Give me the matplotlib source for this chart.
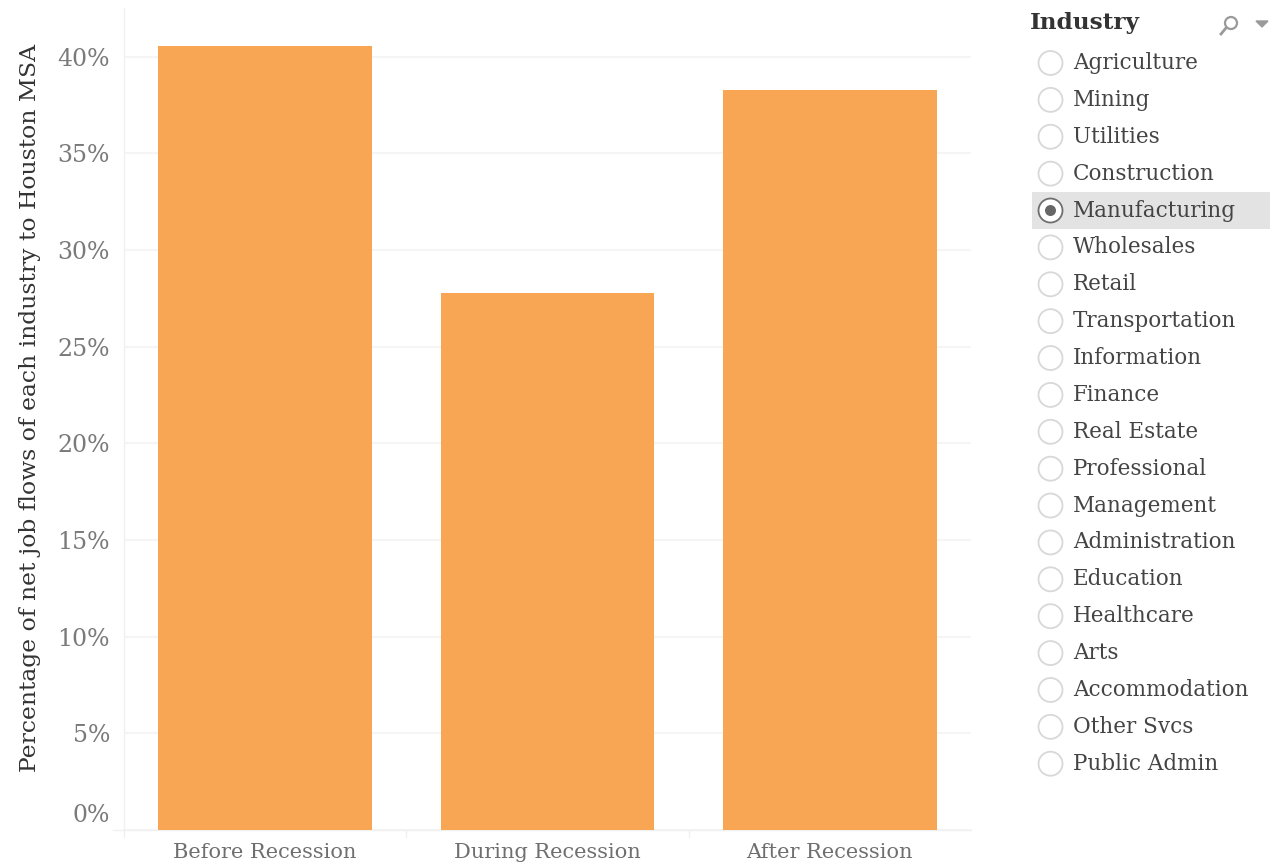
import numpy as np
import matplotlib
matplotlib.use("Agg")
import matplotlib.pyplot as plt
from matplotlib.patches import Circle, Rectangle, Polygon
from matplotlib.transforms import ScaledTranslation

plt.rcParams['font.family'] = ['DejaVu Serif']

# values
periods = ["Before Recession", "During Recession", "After Recession"]
shares = [40.55, 27.8, 38.3]
y_ticks = [0, 5, 10, 15, 20, 25, 30, 35, 40]
industries = ["Agriculture", "Mining", "Utilities", "Construction", "Manufacturing",
              "Wholesales", "Retail", "Transportation", "Information", "Finance",
              "Real Estate", "Professional", "Management", "Administration", "Education",
              "Healthcare", "Arts", "Accommodation", "Other Svcs", "Public Admin"]
selected = "Manufacturing"

W, H = 1270, 865
fig = plt.figure(figsize=(W / 100, H / 100), dpi=100)

# main bar chart
ax = fig.add_axes([124 / W, (H - 830) / H, 847 / W, 822 / H])
x = np.arange(len(periods))
ax.bar(x, shares, width=0.757, color="#f9a654", zorder=3)
ax.set_xlim(-0.5, 2.5)
ax.set_ylim(0, 42.52)
ax.set_yticks(y_ticks)
ax.set_yticklabels([f"{t}%" for t in y_ticks], fontsize=17, color="#7a7a7a")
ax.set_xticks(x)
ax.set_xticklabels(periods, fontsize=15, color="#6f6f6f")
ax.set_ylabel("Percentage of net job flows of each industry to Houston MSA",
              fontsize=16.9, color="#333333")
ax.yaxis.set_label_coords(-0.098, 0.514)
ax.grid(axis="y", color="#f5f5f5", lw=1.5, zorder=0)
ax.tick_params(axis="x", length=0, pad=9)
ax.tick_params(axis="y", length=0, pad=10)
# the 0% label sits above the baseline in the original
zero = ax.get_yticklabels()[0]
zero.set_verticalalignment("bottom")
zero.set_transform(zero.get_transform() + ScaledTranslation(0, 3 / 100, fig.dpi_scale_trans))
for s in ["top", "right"]:
    ax.spines[s].set_visible(False)
for s in ["left", "bottom"]:
    ax.spines[s].set_color("#f0f0f0")
    ax.spines[s].set_linewidth(1)
# little separators below the axis
for b in [-0.5, 0.5, 1.5]:
    ax.plot([b, b], [0, -0.35], color="#f0f0f0", lw=1, clip_on=False)
ax.plot([-0.5 - 11 / 282, -0.5], [0, 0], color="#f0f0f0", lw=1, clip_on=False)

# filter panel, overlay in pixel coordinates
panel = fig.add_axes([0, 0, 1, 1], facecolor="none")
panel.set_xlim(0, W)
panel.set_ylim(H, 0)
panel.axis("off")

panel.text(1030, 23, "Industry", fontsize=16.7, fontweight="bold", color="#333333",
           va="center", ha="left")
panel.add_patch(Circle((1231, 23), 6, fill=False, ec="#9a9a9a", lw=1.6))
panel.plot([1226, 1221], [28, 34], color="#9a9a9a", lw=2)
panel.add_patch(Polygon([[1256, 21], [1268, 21], [1262, 27]], color="#9a9a9a"))

row0, step = 62, 36.88
for i, name in enumerate(industries):
    y = row0 + i * step
    if name == selected:
        panel.add_patch(Rectangle((1032, y - 18), 238, 37, color="#e3e3e3", lw=0))
        panel.add_patch(Circle((1050.5, y + 1), 12, fc="white", ec="#6e6e6e", lw=1.3))
        panel.add_patch(Circle((1050.5, y + 1), 5.5, fc="#666666", ec="none"))
    else:
        panel.add_patch(Circle((1050.5, y + 1), 12, fc="white", ec="#d8d8d8", lw=1.3))
    panel.text(1073, y + 1, name, fontsize=15.5, color="#444444", va="center", ha="left")

fig.savefig("out.png", dpi=100)
